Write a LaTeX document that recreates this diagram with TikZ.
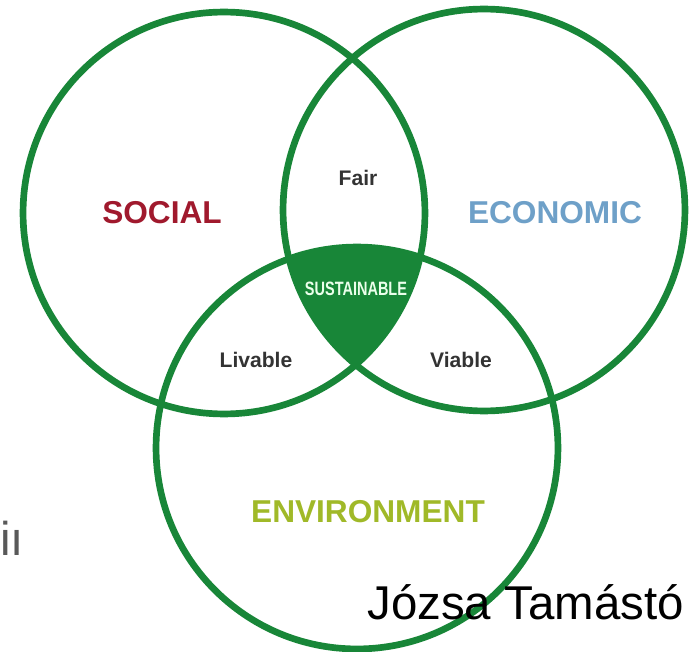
\documentclass[tikz,border=0pt]{standalone}
\usepackage{fontspec}
\setmainfont{Liberation Sans}

\definecolor{vgreen}{RGB}{24,134,56}
\definecolor{socred}{RGB}{160,25,45}
\definecolor{ecoblue}{RGB}{110,160,200}
\definecolor{envlime}{RGB}{160,185,40}

\tikzstyle{ring}=[draw=vgreen, line width=3.8pt]
\tikzstyle{big}=[font=\fontsize{18}{18}\selectfont\bfseries, inner sep=0pt]
\tikzstyle{small}=[font=\fontsize{12}{12}\selectfont\bfseries, text=black!80, inner sep=0pt]
\tikzstyle{plain}=[font=\fontsize{27}{27}\selectfont, inner sep=0pt, anchor=base west]
\newcommand{\ringr}{4.02cm}

\begin{document}
\begin{tikzpicture}[x=0.02cm, y=-0.02cm]
    \useasboundingbox (0,0) rectangle (691,652);
    % First the centres of the three circles
    \foreach \cx/\cy/\name in {224/213/soc, 484/210/eco, 357/448/env}
        \coordinate (\name) at (\cx,\cy);
    % Filled core where all three overlap
    \begin{scope}
        \clip (soc) circle (\ringr);
        \clip (eco) circle (\ringr);
        \fill[vgreen] (env) circle (\ringr);
    \end{scope}
    \foreach \name in {soc, eco, env}
        \draw[ring] (\name) circle (\ringr);

    % Circle names
    \node[big, text=socred] (social) at (162,213) {SOCIAL};
    \node[big, text=ecoblue] (economic) at (555,213) {ECONOMIC};
    \node[big, text=envlime] (environment) at (368,512) {ENVIRONMENT};
    % Overlap names
    \node[small] (fair) at (358,178) {Fair};
    \node[small] (livable) at (256,360) {Livable};
    \node[small] (viable) at (461,360) {Viable};
    \node[font=\fontsize{11}{11}\selectfont\bfseries, xscale=0.75, text=green!8!white, inner sep=0pt] (sustainable) at (356,289) {SUSTAINABLE};

    \node[plain, text=black!65] (cut) at (0,556) {iı};
    \node[plain] (author) at (367,620) {Józsa Tamástó};
\end{tikzpicture}
\end{document}
